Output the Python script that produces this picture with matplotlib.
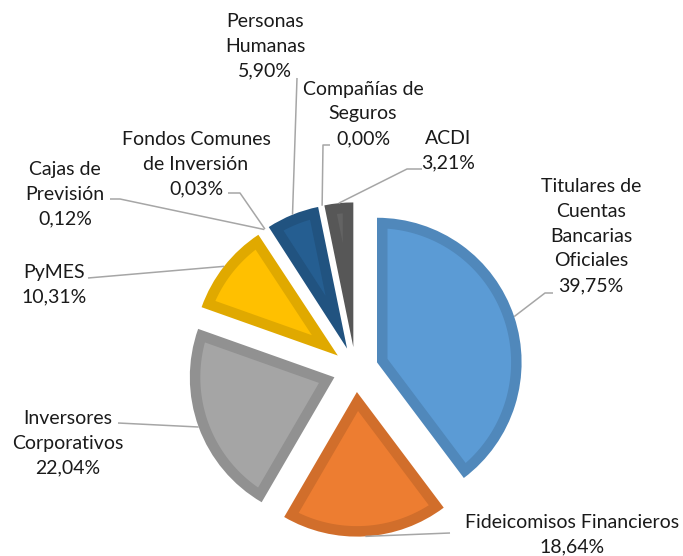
import matplotlib
matplotlib.use('Agg')
import matplotlib.pyplot as plt
import matplotlib.colors as mcolors
from matplotlib.patches import Polygon
import numpy as np

# data
categories = ['Titulares de\nCuentas\nBancarias\nOficiales', 'Fideicomisos Financieros',
              'Inversores\nCorporativos', 'PyMES', 'Cajas de\nPrevisión',
              'Fondos Comunes\nde Inversión', 'Personas\nHumanas',
              'Compañías de\nSeguros', 'ACDI']
values = [39.75, 18.64, 22.04, 10.31, 0.12, 0.03, 5.90, 0.00, 3.21]
colors = ['#5B9BD5', '#ED7D31', '#A5A5A5', '#FFC000', '#4472C4',
          '#70AD47', '#255E91', '#9E480E', '#636363']

# layout in pixels (label centre, leader line points after the anchor)
W, H = 683, 556
CX, CY, R = 355.6, 369.5, 144.6
label_pos = [(591, 236), (572, 535), (68, 443), (54, 285), (65, 194),
             (196, 164), (265, 46), (363, 114), (448, 151)]
leader_pts = [[(545, 293), (553, 293)], [(450, 533)], [(118, 423)], [(88, 278)],
              [(120, 199), (110, 199)], [(240, 193), (228, 193)], [(297, 78)],
              [(323, 145), (330, 145)], [(407, 169), (422, 169)]]
BORDER = 10.5 / R   # border width in data units

plt.rcParams['font.family'] = ['Lato', 'DejaVu Sans']


def px(x, y):
    return (x - CX) / R, (CY - y) / R


def inner_poly(w, t):
    # slice shrunk inwards by t, so the outer ring shows as border
    a1, a2 = np.radians(w.theta1), np.radians(w.theta2)
    half = (a2 - a1) / 2
    cx, cy = w.center
    d = t / np.sin(half)
    bis = a1 + half
    apex = (cx + d * np.cos(bis), cy + d * np.sin(bis))
    ri = w.r - t
    delta = np.arcsin(t / ri)
    th = np.linspace(a1 + delta, a2 - delta, 80)
    pts = [apex] + list(zip(cx + ri * np.cos(th), cy + ri * np.sin(th)))
    return pts


fig = plt.figure(figsize=(W / 100, H / 100), dpi=100)
ax = fig.add_axes([0, 0, 1, 1])

explode = [0.156] * len(values)
edge_colors = [tuple(np.array(mcolors.to_rgb(c)) * 0.88) for c in colors]
wedges, _ = ax.pie(values, colors=edge_colors, startangle=90, counterclock=False,
                   explode=explode, radius=1, wedgeprops=dict(linewidth=0))

for w, c, v in zip(wedges, colors, values):
    if v > 1:
        ax.add_patch(Polygon(inner_poly(w, BORDER), closed=True, facecolor=c,
                             linewidth=0, zorder=w.get_zorder() + 0.1))
    else:
        # the border swallows slices this thin, nothing shows
        w.set_visible(False)

# labels and leader lines
total = sum(values)
start = 0.0
for i, (cat, v) in enumerate(zip(categories, values)):
    mid = (start + v / 2) / total * 2 * np.pi
    start += v
    ox, oy = np.sin(mid) * explode[i], np.cos(mid) * explode[i]
    ax_, ay_ = ox + np.sin(mid), oy + np.cos(mid)
    xs = [ax_] + [px(*p)[0] for p in leader_pts[i]]
    ys = [ay_] + [px(*p)[1] for p in leader_pts[i]]
    ax.plot(xs, ys, color='#A6A6A6', lw=1.1, solid_capstyle='butt', zorder=1)
    txt = cat + '\n' + f'{v:.2f}'.replace('.', ',') + '%'
    tx, ty = px(*label_pos[i])
    ax.text(tx, ty, txt, ha='center', va='center', fontsize=14,
            color='#1a1a1a', linespacing=1.55, multialignment='center')

ax.set_xlim(-CX / R, (W - CX) / R)
ax.set_ylim((CY - H) / R, CY / R)
ax.set_aspect('auto')
ax.axis('off')

fig.savefig('out.png', dpi=100)
